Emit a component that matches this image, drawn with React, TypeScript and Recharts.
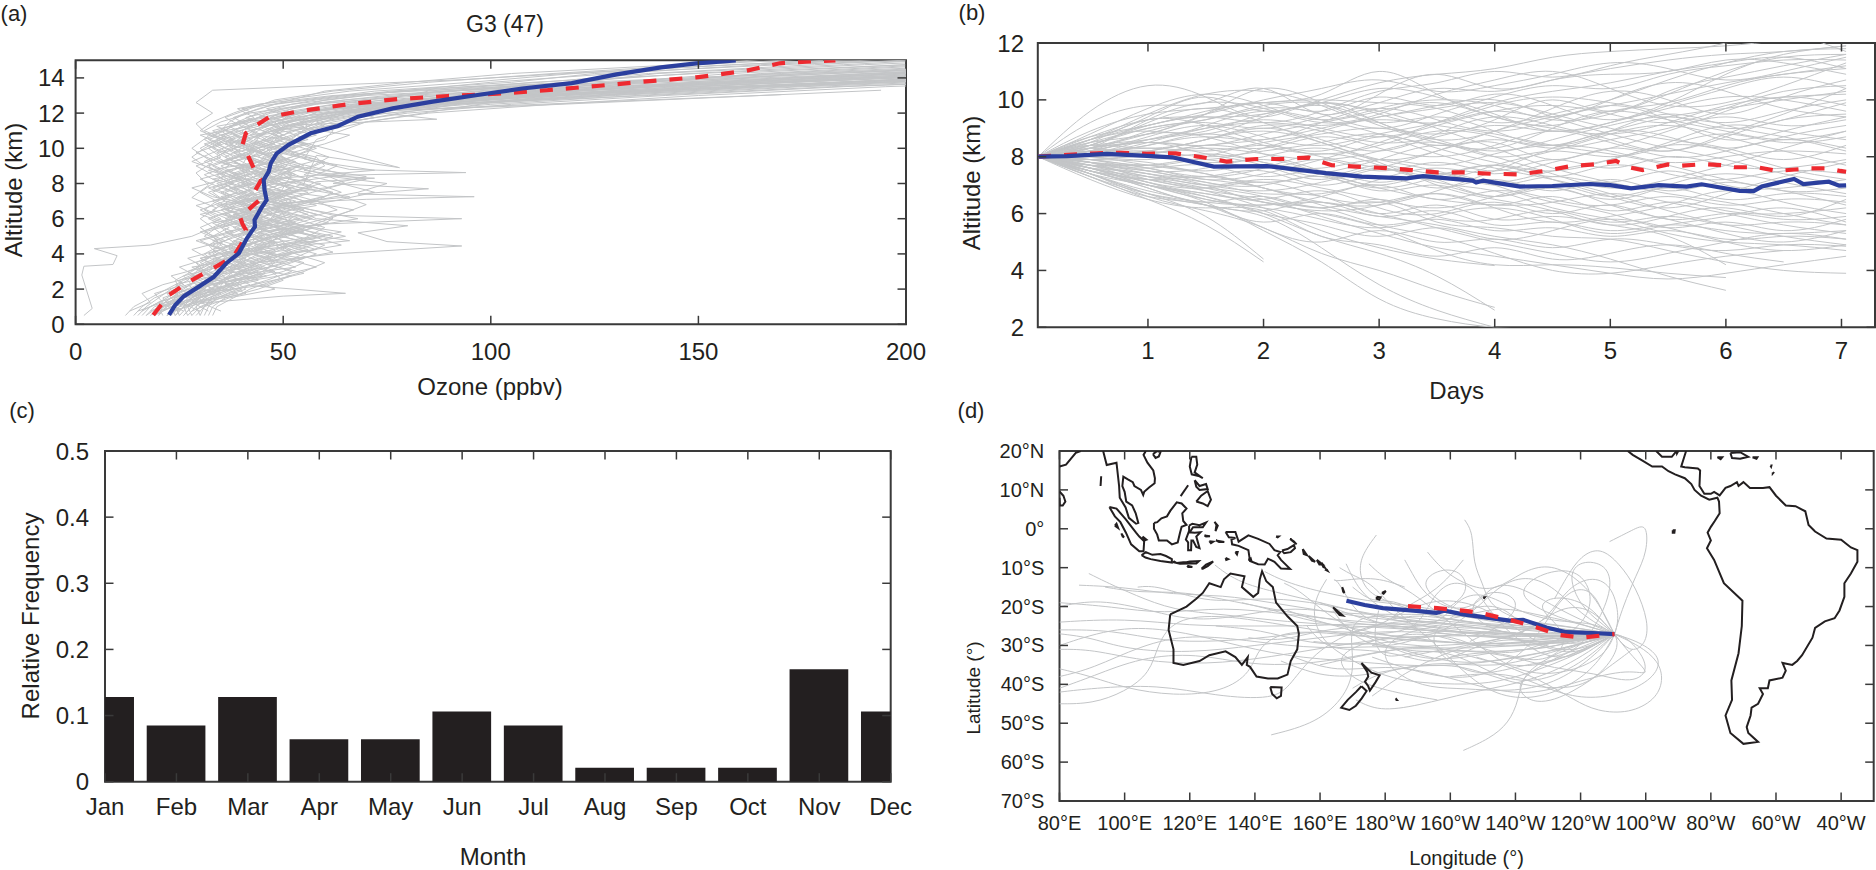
import React from 'react';
import { LineChart, BarChart, Line, Bar, XAxis, YAxis, ReferenceArea } from 'recharts';

type Pair = [number, number];

// ---------- panel (a): ozone profiles ----------
const altGrid = [0.5,1,1.5,2,2.5,3,3.5,4,4.5,5,5.5,6,6.5,7,7.5,8,8.5,9,9.5,10,10.5,11,11.5,12,12.5,13,13.5,14,14.5,15];
const altGridB = [.75,1.25,1.75,2.25,2.75,3.25,3.75,4.25,4.75,5.25,5.75,6.25,6.75,7.25,7.75,8.25,8.75,9.25,9.75,10.25,10.75,11.25,11.75,12.25,12.75,13.25,13.75,14.25,14.75,15.25];
const ozoneProfiles: number[][] = [
[20,22,26,31,33,38,36,41,44,39,46,42,48,51,44,47,53,49,45,50,54,58,66,78,92,118,150,190,240,300],
[18,21,24,28,34,31,37,35,42,47,40,38,45,41,49,55,48,42,46,44,50,47,55,63,80,104,140,180,215,270],
[25,27,30,36,40,45,48,43,52,56,60,53,47,58,62,54,50,57,61,55,48,52,60,72,88,125,168,220,270,330],
[30,31,33,38,35,42,47,52,48,44,50,57,49,43,46,52,58,63,56,50,45,49,57,66,85,110,145,200,250,310],
[15,17,20,23,27,29,33,36,34,38,35,41,37,33,39,36,42,38,34,37,41,36,39,44,52,70,110,160,205,260],
[22,24,29,33,30,36,41,38,45,50,43,48,55,47,52,59,45,41,48,53,46,42,50,58,74,96,130,172,225,285],
[28,30,35,41,38,44,39,46,51,48,58,62,54,49,56,48,44,51,47,42,49,55,62,75,100,135,175,235,290,350],
[19,23,21,27,32,35,30,34,39,36,33,37,44,40,36,43,39,35,41,38,34,40,45,49,62,88,128,185,230,295],
[32,33,36,44,50,47,42,49,55,62,52,46,42,50,57,65,60,52,44,47,53,60,70,85,115,150,195,255,310,380],
[24,26,28,32,37,34,40,44,41,47,54,44,40,46,42,39,47,44,50,46,40,44,48,56,68,92,135,178,228,275],
[17,19,25,30,28,33,38,42,37,43,39,45,36,40,48,42,37,33,39,43,37,33,41,47,58,80,118,170,218,265],
[27,29,32,37,42,39,46,50,57,53,48,55,63,58,50,46,52,45,42,48,56,50,46,53,70,108,155,210,260,320],
[21,20,23,26,29,32,35,33,37,40,45,39,35,43,38,34,41,47,40,36,32,38,44,52,76,112,160,215,275,340],
[31,32,34,39,46,52,45,40,47,42,38,44,50,57,68,75,58,48,54,49,43,47,54,68,95,130,172,225,280,345],
[23,25,27,35,31,37,42,47,44,58,50,43,39,45,53,49,43,55,50,41,47,53,59,70,90,122,162,205,255,305],
[12,14,18,22,26,31,29,34,32,36,41,34,30,36,32,38,33,29,35,32,36,31,35,42,56,84,125,175,225,290],
[26,28,31,34,39,43,50,55,60,49,44,50,46,52,47,43,38,44,52,57,51,45,51,61,82,115,150,198,245,300],
[29,31,37,48,42,50,55,48,43,51,57,47,52,44,40,46,50,42,38,44,50,56,65,80,105,142,185,240,295,360],
[16,18,22,25,24,28,31,37,35,33,37,32,38,34,41,35,31,37,33,30,34,38,42,46,55,75,105,155,210,270],
[33,34,38,42,48,55,60,53,49,46,52,60,67,55,48,44,49,54,46,52,60,62,58,64,78,100,138,192,248,315],
[20,21,26,29,36,41,37,32,38,45,41,36,42,38,44,50,46,40,36,40,46,50,48,54,72,98,142,190,240,298],
[24,23,28,34,44,38,34,39,46,42,47,52,44,39,35,41,37,43,49,44,39,43,47,60,78,106,148,195,238,290],
[14,16,19,24,30,27,32,40,36,31,34,38,33,37,43,37,34,40,37,33,38,35,37,41,48,65,95,148,205,255],
[27,26,30,33,35,40,44,47,52,65,56,50,44,55,64,58,53,46,52,58,52,48,56,70,92,128,165,218,268,335],
[22,25,34,40,37,48,43,37,41,49,55,68,57,46,51,45,42,50,44,38,42,46,52,62,84,118,158,208,262,325],
[30,29,31,35,39,37,43,51,64,57,49,41,47,53,45,40,44,48,42,46,55,58,54,60,76,102,132,182,235,280],
[19,22,24,30,34,30,35,38,33,39,43,40,46,36,33,38,35,32,38,35,31,36,39,50,66,94,138,188,245,305],
[25,24,26,31,33,36,40,36,42,38,44,54,48,62,72,64,55,60,58,48,42,40,44,55,72,116,165,225,285,355],
[28,27,29,36,41,46,52,58,50,60,53,47,41,48,44,50,65,56,47,43,37,42,50,65,88,138,182,245,305,375],
[17,20,23,27,25,30,34,31,35,33,30,35,31,34,30,33,36,31,28,31,35,30,33,38,44,62,102,165,218,278],
];
const ozoneProfilesB: number[][] = [
[21,26,24,31,35,29,37,33,42,36,47,39,34,44,38,48,41,35,43,37,45,40,36,42,48,62,85,115,150,190],
[26,22,30,27,38,44,36,48,41,55,46,38,50,43,37,46,52,44,38,48,42,55,47,52,60,78,100,130,165,215],
[16,20,27,24,33,28,41,35,30,38,33,44,37,42,35,30,38,43,36,31,39,34,46,40,55,72,105,125,170,230],
[30,25,34,42,37,53,46,58,50,44,61,52,45,66,54,47,72,58,49,56,44,51,60,68,84,112,138,165,205,260],
[13,18,16,21,29,25,32,28,36,31,39,34,29,37,32,40,34,28,33,38,32,37,43,39,50,66,95,120,158,210],
[24,29,35,31,46,40,33,45,38,50,42,56,48,39,57,49,43,38,47,55,48,42,52,70,94,120,155,190,235,290],
[32,28,39,33,43,38,50,44,66,52,45,38,52,60,44,37,46,53,44,36,44,60,72,65,78,96,128,168,210,250],
[19,24,22,28,26,34,30,39,33,41,36,30,41,35,45,39,32,45,39,34,41,37,48,56,70,88,118,148,190,240],
[23,31,28,37,32,47,55,40,58,48,39,47,41,50,42,56,47,36,42,50,58,48,41,50,65,92,122,140,185,225],
[28,33,30,46,52,42,36,52,46,40,49,58,50,44,60,70,55,60,50,44,38,46,55,60,74,85,110,150,200,245],
[15,21,19,26,23,31,27,35,29,37,45,36,43,33,28,36,42,34,29,35,30,42,38,44,52,60,80,105,145,180],
[35,30,41,36,49,58,50,43,54,64,50,42,36,48,55,41,49,57,52,60,66,52,48,60,82,105,135,170,220,270],
[20,27,33,29,40,35,30,42,35,30,37,43,35,47,52,44,36,31,36,41,35,44,52,46,58,76,112,138,178,220],
[18,23,29,38,30,41,47,37,44,52,44,35,46,38,33,41,36,50,44,39,33,38,44,62,86,110,130,158,200,255],
[25,20,26,33,45,37,44,56,47,41,53,46,58,52,42,33,44,38,34,42,50,45,58,74,100,128,148,175,225,285],
];
const ozoneSpikes: Pair[][] = [
[[24,.5],[28,1.5],[35,3],[44,4.2],[52,5.5],[48,7],[58,8.1],[72,8.3],[60,8.45],[94,8.62],[66,8.8],[55,9.4],[58,10.5],[70,11.5],[100,12.6],[150,13.4],[230,14.2]],
[[26,.5],[30,1.5],[38,3],[42,4.5],[47,6],[50,6.9],[70,7.1],[96,7.25],[68,7.4],[85,7.7],[62,8],[70,8.4],[52,9],[48,10],[55,11],[65,12],[110,13],[200,13.9]],
[[22,.5],[31,2],[36,3.5],[48,4.6],[44,5.2],[60,5.7],[93,6],[62,6.2],[55,6.6],[42,7.5],[40,9],[44,10.6],[52,12],[90,12.9],[170,13.6],[260,14.6]],
[[31,1],[36,2.5],[44,3.5],[62,4],[93,4.45],[75,4.7],[68,5.2],[80,5.6],[58,6],[48,7],[52,8.5],[46,10],[50,11.3],[87,11.65],[70,12.1],[112,12.45],[194,13.3]],
[[2,.5],[4,.9],[1.5,2.8],[2,3.3],[9,3.4],[10,3.9],[4.5,4.3],[18,4.5],[28,5],[33,5.5],[30,6],[34,6.6],[28,7.2],[32,7.9],[29,8.6],[33,9.2],[28,10],[32,10.7],[29,11.4],[33,12],[29,12.6],[33,13.3],[93,13.9],[122,14.3],[180,15]],
[[30,1.2],[50,1.6],[65,1.76],[42,2.2],[55,2.9],[46,3.4],[62,4.1],[50,5],[70,6.8],[55,8],[58,9.6],[78,8.9],[52,10.5],[60,12],[101,12.4],[170,13.05]],
];
const blueOzone: Pair[] = [[22.5,.53],[24,1.1],[26.1,1.6],[29.7,2.14],[33.3,2.7],[36.3,3.47],[39.3,4.03],[41.3,4.9],[43.2,5.55],[43.1,5.93],[44.7,6.6],[46,7.06],[45.5,7.63],[45.3,8.2],[46.5,8.67],[47,9.15],[48.4,9.7],[51.3,10.2],[56.6,10.85],[63.2,11.27],[68,11.8],[76.4,12.27],[86,12.65],[96.8,13.03],[107.6,13.4],[119.5,13.7],[130.3,14.2],[141,14.6],[149.5,14.83],[159,15]];
const redOzone: Pair[] = [[18.7,.53],[22.5,1.67],[27.9,2.5],[33.3,3.2],[38,3.85],[40,4.6],[41,5.36],[40.2,5.7],[39.6,6.1],[41.7,6.53],[44.3,7.06],[43.1,7.54],[44.7,8.2],[43.1,8.77],[41.3,9.7],[40.2,10.2],[41,10.85],[43.5,11.3],[46.5,11.76],[53.7,12.1],[65.6,12.5],[77.6,12.8],[89.6,12.97],[101.6,13.1],[113.5,13.3],[125.5,13.54],[137.5,13.8],[149.5,14.03],[161.4,14.4],[169.6,14.83],[176,14.93],[183,15]];
const ozoneTicks = [0,50,100,150,200];
const altTicksA = [0,2,4,6,8,10,12,14];

// ---------- panel (b): altitude vs days ----------
const dayGrid = [0.05,0.5,1,1.5,2,2.5,3,3.5,4,4.5,5,5.5,6,6.5,7.04];
const altitudeRuns: number[][] = [
[8,9.6,10.5,10.1,9.4,9.9,9.2,8.8,9.3,10,9.6,10.3,10.8,11.2,11.6],
[8,9.2,9.8,9.9,10.4,9.5,10.2,10.9,10.4,10.7,11.1,11.4,11.6,11.7,11.9],
[8,8.9,9.5,9.7,9.9,10,9.9,9.7,9.2,9.5,10,10.7,11.3,11.7,11.8],
[8,8.7,9.1,9.6,9.9,10.2,11,10.2,9.4,9.1,9.6,9.9,10.5,10.9,11.1],
[8,8.5,9,9.2,9,9.4,9.9,10.4,10.3,10.7,10.9,11,11.4,11.3,10.9],
[8,8.6,8.9,8.8,9.4,9.8,9.2,8.6,8.9,9.7,10.3,10,9.5,10.1,10.7],
[8,8.4,8.6,9,9.3,9,8.7,9.1,9.6,9.8,9.5,9.2,9.7,10.3,10.5],
[8,8.3,8.5,8.4,8.8,9.2,9.6,9.9,9.4,9,8.8,9.2,9.8,10.1,10.2],
[8,8.2,8.7,9.1,8.7,8.4,8.8,9.2,9.8,10.1,9.9,9.5,9,9.3,9.9],
[8,8.4,8.3,8.6,9.1,8.9,8.5,8.7,9.1,8.9,9.2,9.7,10.1,10,9.6],
[8,8.1,8.3,8.2,8.5,8.8,9,8.6,8.2,8.6,9.1,9.4,9.2,9.6,10],
[8,8.2,8.4,8.8,8.4,8.1,8.4,8.9,8.7,8.3,8.6,9,9.4,9.1,9.3],
[8,8.3,8.1,8.4,8.3,8.7,8.3,8,8.4,8.9,8.5,8.2,8.7,9.3,9.5],
[8,8.1,8.2,8,8.2,8.5,8.8,8.4,8.6,8.4,8.9,8.7,8.3,8.7,9.1],
[8,8,8.1,8.3,8.1,7.9,8.2,8.5,8,8.2,8,8.4,8.8,8.5,8.7],
[8,7.9,8,7.8,8,8.3,7.9,8.2,8.5,7.9,8.3,8,8.2,8.6,8.3],
[8,8,7.9,8.1,7.8,7.6,7.9,7.7,8.1,8.4,8.2,7.8,8,8.2,8.1],
[8,7.8,7.7,7.9,7.6,7.9,7.5,7.8,7.5,7.9,7.6,8,7.7,7.6,7.9],
[8,7.9,7.8,7.5,7.7,7.3,7.7,7.4,7.7,7.3,7.7,7.4,7.2,7.5,7.4],
[8,7.8,7.6,7.7,7.3,7.5,7.1,7.4,7,7.3,7.1,7.5,7,6.9,7.2],
[8,7.7,7.4,7.3,7.5,7,7.3,6.9,7.2,6.8,7.2,6.8,7.1,6.8,6.9],
[8,7.7,7.5,7.1,7,7.3,6.8,7,6.6,7,6.6,6.9,6.5,6.7,6.6],
[8,7.6,7.2,7.3,6.9,6.7,7,6.5,6.8,6.5,6.3,6.6,6.3,6.5,6.4],
[8,7.6,7.1,6.9,7.1,6.6,6.4,6.7,6.3,6.6,6.1,6.4,6.1,6,6.2],
[8,7.5,7,6.7,6.5,6.8,6.2,6,6.4,6,6.3,5.8,6,5.8,5.9],
[8,7.5,6.9,6.4,6.6,6.2,6.5,5.9,5.8,6.1,5.7,5.9,5.6,5.7,5.6],
[8,7.4,6.7,6.3,6.1,6.4,5.9,6.1,5.6,5.7,5.4,5.6,5.4,5.3,5.4],
[8,7.4,6.8,6.3,5.7,6,5.6,5.8,5.4,5.5,5.2,5.4,5.1,5.2,5.1],
[8,7.3,6.6,6.3,5.5,5,5.4,5,5.1,4.8,5.1,4.9,4.7,4.9,4.85],
[8,7.2,6.5,6.2,6.1,5.2,4.9,4.5,4.8,4.4,4.6,4.9,4.6,4.3],
[8,7.3,6.5,5.6,4.3],
[8,7.4,6.7,5.9,4.4],
[8,7.4,6.6,6.1,5.5,4.6,4,3.3,2.7],
[8,7.5,6.9,6.3,5.9,4.8,3.5,2.6,2],
[8,7.5,7,6.4,5.4,4.3,3,2.3,2,1.9],
[8,7.6,7,6.6,6,5.2,4.6,3.8,2.6],
[8,7.7,7.1,6.7,6.4,6,5.5,4.7,4.2,4.2,4.1,3.9,3.75],
[8,7.7,7.3,6.8,6.2,5.4,4.8,4.4,4.17],
[8,7.8,7.4,7,6.4,6.2,5.6,5.2,4.6,4,3.9,4.2,4.5,4.7],
[8,7.8,7.2,6.9,6.6,6.2,6.4,5.7,5.5,5.2,5.1,4.7,4.3,4,3.9],
[8,7.6,7.3,7.1,6.7,6.6,6,6.3,5.8,5.9,5.6,5.2,4.2],
[8,7.9,7.5,7.2,6.9,6.3,5.9,5.6,5.2,4.9,4.4,3.8,3.3],
[8,8.7,9.3,9.4,9.5,10,10.6,10.9,11.1,11.5,11.7,11.8,11.9,12.1,12.3],
[8,8.6,9.1,9.4,9.2,9.6,10.3,10.6,11,10.8,11.2,11.6,12,12.3,11.7],
[8,8.4,9,9.3,9.7,9.5,9,9.5,10.1,10.5,10.4,10.9,11.2,11.4,11.4],
[8,8.3,8.8,9.5,10.4,9.9,9.1,8.5,8.3,9,9.6,9.3,8.9,8.6,8.9],
[8,8.1,8.6,9,9.2,9.1,9.4,9.8,10,9.4,8.8,8.3,7.9,7.4,7],
[8,8.2,8.9,9.3,9.8,9.9,9.6,9,8.3,7.6,7.1,6.7,6.4,6,5.6],
[8,8.4,9.2,9.7,9.2,8.5,7.8,7.1,6.8,6.2,5.8,5.3,5,4.9,4.7],
[8,7.9,8.1,8.4,8.6,9,9.3,9.1,8.8,8.4,8.1,7.7,7.2,6.8,6.3],
[8,7.7,7.3,7,6.8,7.1,7.6,8.2,8.9,9.4,9.8,10.2,10.6,10.9,11.2],
[8,7.8,7.6,7.2,7.4,7.9,8.5,9.2,9.9,10.3,10.6,11,11.3,11.5,11.1],
[8,8,7.7,7.4,6.9,6.4,6.3,6.8,7.5,8.3,8.9,9.4,9.7,10,10.3],
[8,7.6,7,6.5,6.3,6.6,7.2,7.6,7.4,7.8,8.3,8.9,9.6,10.1,9.8],
[8,8.1,8.2,8.6,8.9,8.5,7.9,7.5,7.1,7.5,7.9,8.4,8.2,7.6,7.2],
[8,8.3,8.5,8.3,7.8,7.4,6.9,6.5,6.3,6.4,6.7,6.4,6,5.6,5.3],
[8,8.5,8.8,9.5,9.9,9.6,10.1,9.8,10.2,9.8,9.3,9.8,10.4,10.8,10.4],
[8,8.3,9.3,9.9,9.7,9.2,9.5,10.2,10.7,11,10.4,9.8,9.9,10.5,11.3],
[8,8.6,9.4,10.1,9.6,9.9,9.5,9.2,9.6,9.4,10,10.6,10.3,9.7,9.4],
[8,8.2,8.6,8.9,9.5,9.9,10.4,10.1,9.5,8.9,9.2,9.9,10.9,11.6,11.9],
[8,8.1,8.4,8.7,8.6,9.2,9.7,9.3,8.9,9.3,9.8,9.3,8.6,8.9,9.4],
[8,8,8.2,8.6,9,8.6,8.2,8.8,9.4,9.1,8.6,8.2,8.8,9.5,10.4],
[8,8.2,8.1,7.9,8.3,8.9,9.4,9.7,9.9,9.5,9,8.6,8.3,7.9,8.4],
[8,7.9,7.7,8,8.4,8.2,8.7,8.3,7.8,7.5,7.9,8.5,9.1,8.9,8.6],
[8,7.9,7.6,7.3,7.6,8.1,7.7,7.2,7.7,8.2,8.8,9.1,8.7,8.2,7.7],
[8,7.7,7.7,7.4,7.1,7.4,7.9,8.4,8,7.4,6.9,7.2,7.7,8.3,8.9],
[8,7.8,7.5,7.6,7.9,7.4,6.9,7.3,7.7,7.2,6.6,6.2,6.7,7.3,7.8],
[8,7.6,7.4,7,7.2,6.9,6.5,6.2,6.6,6.9,6.5,7,7.4,7.1,6.7],
[8,7.5,7.2,6.9,6.4,6.1,6.3,6.7,6.2,5.7,5.9,6.3,6.8,6.4,6],
[8,7.5,7.1,6.5,6.2,5.8,5.5,5.9,6.2,5.8,5.3,5.6,5.9,6.2,5.7],
[8,7.4,7,6.6,6,5.6,5.2,5.5,5.1,5.4,5.8,5.5,5,4.7,4.9],
[8,7.3,6.7,6.4,6.3,6.4,6,5.5,5,4.6,4.3,4.6,5,5.3,5.1],
[8,7.6,7.2,6.8,6.5,5.9,5.3,4.8,4.5,4.2,3.9,3.7,3.9,4.2,4.5],
[8,8.1,8.5,9.1,9.6,9.3,8.8,8.1,7.6,7.2,6.7,6.1,5.6,5.2,4.9],
[8,8.3,8.8,8.7,8.1,7.5,7,7.4,7,6.4,6,5.5,5.7,5.4,5.8],
[8,8.5,9.3,9.1,8.5,8,7.6,7.2,6.6,6.9,6.3,5.8,5.3,5,5.4],
[8,8.2,8.5,8.1,7.7,7.2,7.6,7,6.5,6.1,5.6,5.9,6.2,5.9,6.5],
[8,8.6,9.5,10.2,10.3,9.8,9.2,9.4,8.9,8.4,8.9,9.5,9.1,8.7,8.2],
[8,8.4,9.1,9.5,10,10.4,10.7,10.3,10.5,10.9,11.3,11.1,10.7,11,11.5],
[8,8.8,9.7,10.2,9.8,9.3,9.7,10,9.8,9.3,9.5,10.2,11,11.5,11.6],
];
const blueDays: Pair[] = [[.05,8],[.3,8.02],[.645,8.1],[.99,8.03],[1.21,7.98],[1.57,7.65],[2.03,7.67],[2.54,7.42],[2.85,7.3],[3.24,7.24],[3.38,7.32],[3.81,7.16],[3.84,7.09],[3.9,7.16],[4,7.09],[4.22,6.95],[4.5,6.97],[4.82,7.04],[5,7],[5.18,6.89],[5.42,7],[5.66,6.95],[5.79,7.03],[6.12,6.8],[6.24,6.79],[6.31,6.95],[6.59,7.22],[6.67,7.04],[6.89,7.12],[6.98,6.98],[7.04,6.99]];
const redDays: Pair[] = [[.05,8],[.56,8.12],[.77,8.14],[.99,8.1],[1.24,8.12],[1.47,7.98],[1.68,7.83],[1.94,7.92],[2.16,7.92],[2.39,7.97],[2.59,7.7],[2.8,7.65],[3.06,7.6],[3.28,7.53],[3.5,7.45],[3.74,7.45],[3.97,7.4],[4.22,7.38],[4.43,7.5],[4.66,7.67],[4.88,7.74],[5.05,7.85],[5.16,7.63],[5.28,7.53],[5.5,7.73],[5.6,7.68],[5.82,7.74],[5.98,7.7],[6.07,7.63],[6.27,7.63],[6.44,7.5],[6.73,7.59],[6.88,7.59],[6.99,7.5],[7.04,7.47]];
const dayTicks = [1,2,3,4,5,6,7];
const altTicksB = [2,4,6,8,10,12];

// ---------- panel (c): monthly frequency ----------
const months = ['Jan','Feb','Mar','Apr','May','Jun','Jul','Aug','Sep','Oct','Nov','Dec'];
const freq = [.128,.085,.128,.064,.064,.106,.085,.021,.021,.021,.170,.106];
const freqTicks = [0,.1,.2,.3,.4,.5];
const freqLabels = ['0','0.1','0.2','0.3','0.4','0.5'];

// ---------- panel (d): map ----------
const lonTicks = [80,100,120,140,160,180,200,220,240,260,280,300,320];
const lonLabels = ['80°E','100°E','120°E','140°E','160°E','180°W','160°W','140°W','120°W','100°W','80°W','60°W','40°W'];
const latTicks = [20,10,0,-10,-20,-30,-40,-50,-60,-70];
const latLabels = ['20°N','10°N','0°','10°S','20°S','30°S','40°S','50°S','60°S','70°S'];
const blueMap: Pair[] = [[168.1,-18.5],[173.7,-19.6],[179.3,-20.4],[189.6,-21.1],[195.7,-21.6],[198.2,-21.05],[204,-22],[209,-22.6],[218.2,-23.6],[222.3,-23.4],[229.5,-25.4],[235.6,-26.6],[243.7,-26.8],[250.4,-27.1]];
const redMap: Pair[] = [[187,-19.9],[196,-20.4],[203.9,-21.05],[209,-21.6],[218.2,-23.4],[226.4,-25.3],[233.5,-27.3],[240.2,-28],[250.4,-27.1]];
const trajectories: Pair[][] = [
[[250.4,-27.1],[235,-29],[220,-27],[205,-25],[190,-24],[175,-23],[160,-21],[145,-19],[130,-17],[115,-17],[100,-15],[86,-14.5]],
[[250.4,-27.1],[232,-30],[215,-28],[198,-26],[180,-23],[165,-20],[150,-17],[135,-14],[127.7,-9.3]],
[[250.4,-27.1],[230,-28],[210,-27],[190,-26],[170,-25],[150,-24],[130,-22],[115,-21],[103,-17],[95,-14],[89,-11.5]],
[[250.4,-27.1],[228,-27],[205,-27],[175,-24],[160,-25],[140,-25],[120,-25],[100,-23],[80,-24]],
[[250.4,-27.1],[225,-30],[200,-31],[180,-30],[160,-31],[140,-29],[120,-27],[105,-30],[90,-36],[80,-38]],
[[250.4,-27.1],[222,-31],[200,-29],[175,-28],[150,-25],[130,-22],[115,-23],[110,-30],[108,-37],[100,-42],[90,-45],[80,-45]],
[[250.4,-27.1],[220,-30],[190,-29],[165,-27],[150,-26],[141,-30],[139,-37],[130,-42],[115,-43],[100,-41],[90,-38],[80,-36]],
[[250.4,-27.1],[226,-29],[200,-27],[180,-26],[160,-28],[140,-30],[120,-32],[100,-31],[90,-28],[80,-27]],
[[250.4,-27.1],[224,-28],[195,-25],[172,-24],[150,-22],[130,-20],[112,-22],[96,-20],[80,-19]],
[[250.4,-27.1],[220,-28],[190,-27],[165,-30],[145,-33],[125,-35],[105,-34],[90,-31],[80,-31]],
[[250.4,-27.1],[215,-27],[185,-26],[160,-23],[135,-19],[118,-16],[105,-16.5],[94,-15]],
[[250.4,-27.1],[225,-33],[195,-36],[170,-34],[150,-33],[130,-29],[115,-26],[98,-25],[80,-30]],
[[250.4,-27.1],[232,-27],[212,-25],[190,-24],[170,-21],[152,-18],[138,-18],[125,-19],[110,-14.5],[104,-15]],
[[250.4,-27.1],[235,-25],[222,-24],[212,-20],[210,-14],[207,-9],[207,-1],[204.4,2.3]],
[[250.4,-27.1],[225,-25],[200,-24],[185,-20],[175,-17],[172,-12],[172.5,-7],[177.3,-1.6]],
[[250.4,-27.1],[255,-32],[260,-30],[261,-24],[257,-15],[252,-9],[246,-4.6],[240,-7],[236,-12],[232,-18]],
[[250.4,-27.1],[253,-20],[257,-12],[260.5,-6],[260.5,1.6],[256,-.3],[248.9,-3.3]],
[[250.4,-27.1],[258,-30],[264,-34],[265.5,-39],[263,-44],[255,-47.5],[245,-47],[238,-44],[230,-40],[220,-36],[208,-33]],
[[250.4,-27.1],[258,-29],[265,-33],[263,-38],[255,-42],[243,-44],[232,-42],[222,-38],[212,-37],[200,-38]],
[[250.4,-27.1],[238,-30],[228,-34],[222,-38],[221,-44],[218,-50],[212,-54],[204,-57]],
[[250.4,-27.1],[230,-26],[200,-24],[180,-22],[168,-23],[171,-35],[168,-43],[159,-50],[145,-53]],
[[250.4,-27.1],[235,-36],[220,-40],[206,-42],[190,-45.5],[178,-47],[171,-44]],
[[250.4,-27.1],[256,-33],[262,-38],[255,-36],[240,-39],[225,-43],[210,-41],[195,-37],[180,-35],[165,-37],[152,-33]],
[[250.4,-27.1],[240,-32],[225,-37],[212,-40],[198,-40],[182,-39],[170,-34],[160,-29],[157,-20],[162,-13]],
[[250.4,-27.1],[236,-22],[226,-17],[218,-14],[212,-15],[208,-20],[200,-21],[192,-17],[188,-11],[186,-8]],
[[250.4,-27.1],[240,-22],[232,-15],[224,-12],[216,-14],[210,-19],[200,-26],[186,-29],[170,-30],[158,-29]],
[[250.4,-27.1],[245,-18],[238,-12],[230,-9],[222,-11],[214,-16],[206,-15],[198,-11],[193,-6]],
[[250.4,-27.1],[243,-20],[234,-20],[226,-25],[218,-28],[204,-30],[190,-30],[176,-32],[160,-35]],
[[250.4,-27.1],[248,-32],[240,-36],[228,-38],[216,-35],[206,-28],[198,-23],[188,-16],[180,-13],[175,-9]],
[[250.4,-27.1],[246,-34],[238,-40],[226,-44],[214,-43],[204,-37],[195,-29],[184,-22],[176,-14],[170,-12],[166,-10]],
[[250.4,-27.1],[240,-28],[230,-31],[218,-31],[206,-33],[192,-34],[180,-30],[170,-26],[160,-24],[150,-21]],
[[250.4,-27.1],[238,-24],[226,-22],[216,-20],[206,-22],[196,-24],[186,-24],[178,-20],[172,-16],[168,-9]],
[[250.4,-27.1],[242,-29],[232,-28],[222,-32],[212,-32],[200,-27],[190,-28],[180,-31],[170,-28],[164,-21]],
[[250.4,-27.1],[247,-22],[244,-16],[238,-15],[232,-20],[226,-29],[216,-36],[204,-39],[190,-37],[176,-33]],
[[250.4,-27.1],[246,-29],[236,-34],[226,-32],[214,-24],[208,-15],[200,-13],[194,-18],[190,-26],[178,-27]],
[[250.4,-27.1],[252,-23],[250,-15],[244,-12],[236,-15],[230,-23],[222,-27],[212,-29],[198,-31],[186,-33]],
[[250.4,-27.1],[244,-30],[234,-32],[224,-28],[214,-22],[206,-19],[196,-18],[186,-21],[176,-26],[166,-27]],
[[250.4,-27.1],[255,-28],[262,-36],[256,-40],[244,-37],[232,-36],[220,-33],[205,-31],[192,-32],[176,-30]],
[[250.4,-27.1],[240,-26],[228,-26],[216,-25],[204,-24],[192,-22],[182,-18],[176,-19],[170,-15]],
[[250.4,-27.1],[236,-28],[224,-27],[210,-26],[196,-28],[182,-28],[168,-25],[158,-24],[146,-21],[136,-19]],
[[250.4,-27.1],[234,-31],[220,-33],[206,-35],[192,-33],[178,-29],[166,-30],[154,-29],[142,-26],[128,-25]],
[[250.4,-27.1],[230,-32],[214,-36],[198,-34],[184,-36],[172,-38],[160,-38],[148,-34]],
[[250.4,-27.1],[238,-29],[224,-30],[210,-29],[198,-32],[186,-37],[176,-43]],
[[250.4,-27.1],[232,-33],[218,-40],[226,-46],[238,-42],[248,-36],[256,-31]],
[[250.4,-27.1],[228,-24],[212,-23],[198,-20],[190,-14],[197,-10],[204,-11],[206,-17],[196,-22]],
[[250.4,-27.1],[220,-25],[204,-26],[190,-24],[178,-25],[170,-21],[165,-12],[163,-14],[176,-12],[186,-15]],
[[250.4,-27.1],[236,-26],[218,-24],[200,-22],[184,-22],[168,-22],[152,-20],[138,-22],[122,-24],[108,-21],[92,-18],[80,-20]],
[[250.4,-27.1],[232,-28],[214,-30],[196,-29],[178,-27],[160,-26],[144,-28],[128,-29],[112,-29],[96,-26],[80,-26]],
[[250.4,-27.1],[228,-31],[208,-32],[188,-30],[170,-33],[154,-35],[138,-35],[122,-32],[105,-33],[90,-38],[80,-41]],
[[250.4,-27.1],[238,-27],[222,-25],[206,-23],[192,-20],[178,-19],[164,-17],[150,-14],[143,-11]],
[[250.4,-27.1],[226,-28],[206,-25],[186,-23],[170,-26],[158,-32],[151,-40],[146,-44],[128,-43],[110,-40],[90,-41],[80,-42]],
[[250.4,-27.1],[244,-24],[232,-24],[220,-21],[210,-16],[202,-18],[198,-24],[186,-26],[172,-23],[160,-19]],
[[250.4,-27.1],[246,-26],[236,-29],[226,-27],[214,-27],[204,-21],[212,-15],[222,-18],[218,-24],[206,-29]],
[[250.4,-27.1],[242,-31],[232,-34],[222,-35],[210,-38],[200,-35],[192,-28],[202,-21],[214,-19],[220,-23]],
[[250.4,-27.1],[248,-25],[242,-19],[232,-17],[226,-20],[234,-25],[236,-31],[226,-35],[214,-31],[200,-33]],
[[250.4,-27.1],[244,-33],[232,-40],[218,-42],[204,-41],[194,-41],[184,-38],[178,-32],[184,-27],[196,-25]],
[[250.4,-27.1],[240,-35],[226,-40],[214,-38],[202,-32],[190,-31],[180,-34],[176,-29],[178,-21]],
[[250.4,-27.1],[236,-33],[224,-36],[210,-34],[196,-30],[184,-30],[172,-27],[162,-22],[154,-16],[149,-14]],
[[250.4,-27.1],[238,-33],[228,-30],[216,-27],[202,-28],[188,-25],[174,-25],[160,-26],[148,-29],[138,-28]],
[[250.4,-27.1],[234,-29],[220,-29],[208,-31],[196,-27],[186,-27],[174,-29],[164,-33],[170,-39],[182,-42],[196,-44]],
[[250.4,-27.1],[240,-30],[228,-29],[214,-28],[204,-32],[194,-35],[184,-32],[172,-31],[162,-31],[156,-25]],
[[250.4,-27.1],[252,-30],[248,-36],[240,-41],[228,-41],[216,-39],[204,-35],[190,-35],[178,-37],[170,-41]],
[[250.4,-27.1],[232,-26],[218,-26],[208,-24],[198,-23],[188,-22],[180,-24],[186,-20],[196,-16],[204,-8]],
[[250.4,-27.1],[242,-25],[230,-22],[220,-17],[226,-12],[236,-10],[242,-13],[244,-20],[238,-27],[226,-31]],
[[250.4,-27.1],[246,-24],[240,-20],[236,-12],[240,-8],[248,-9],[250,-15],[245,-25],[238,-32],[230,-33]],
];
const coast: Pair[][] = [
[[114,-22],[113.5,-26],[115,-31],[115,-34.5],[118,-35],[123,-34],[126,-32.5],[131,-31.5],[134,-33],[136,-35],[137.8,-33],[137.5,-35],[138.5,-35.5],[140.5,-38],[144,-38.5],[147,-38.5],[150,-37.5],[151,-34],[153,-31],[153.5,-27],[153,-25],[150,-22.5],[146.5,-19],[145.5,-15],[143.5,-13.5],[142.2,-10.9],[141.5,-13],[141,-16.5],[139.5,-17.5],[136,-15],[136.8,-12.2],[132.5,-11.5],[130.5,-13],[129.5,-15],[126,-14],[124,-16.5],[122,-18],[119,-20],[114,-22]],
[[144.7,-40.7],[148.2,-40.8],[148,-43],[146.7,-43.6],[145.3,-42.5],[144.7,-40.7]],
[[172.7,-34.5],[174.5,-36],[175.8,-37],[178.3,-37.7],[177,-39.5],[175.3,-41.6],[174.8,-40.5],[173.8,-39.3],[174.8,-38],[174.5,-36.8],[172.7,-34.5]],
[[172.7,-40.5],[174.3,-41.7],[172.8,-43.6],[171,-45.5],[169,-46.6],[166.5,-46],[168.5,-44],[171,-42],[172.7,-40.5]],
[[254.5,20],[256,19],[259,17.5],[262,16],[265,16],[267,14.8],[269,14],[272,13],[274,11.5],[275,10],[277,8.5],[279.5,7.5],[282,8],[282.5,7],[282.7,4],[281.2,2],[280,.5],[279,-1],[280,-3],[278.8,-5],[281,-8],[284,-14],[289.7,-18.5],[289.5,-25],[288.5,-32],[286.3,-39],[286.5,-44],[284.5,-48],[286,-52.5],[290,-55.3],[294.5,-54.8],[291.5,-52.5],[291,-51],[292.2,-48],[292.5,-46],[294.5,-45],[296,-42.5],[295,-41],[297.5,-41],[298,-39],[302,-38.3],[303,-36.5],[302,-34.5],[305,-35],[306.5,-34],[308,-32.5],[311.2,-28],[312,-25.5],[315,-23.8],[318,-23],[319.5,-21],[321,-17.5],[321,-14],[323,-11.5],[325,-8.5],[325,-5.5],[323,-4.8],[320,-2.8],[315.5,-2.5],[312,-.7],[310,1],[309,4.5],[306,5.8],[303,6],[300,8.5],[298,10.7],[296,10.5],[292,10.5],[290,12],[288.5,11],[288,12],[286,11],[284.5,10.5],[282.7,8.6],[281,9.5],[280,9],[278,9],[276.5,11],[276.7,15],[276,15.5],[272,15.8],[270.9,16],[272.4,20]],
[[263.2,20],[265,18.5],[268,18.5],[269,19.5],[269.5,20]],
[[80,16],[82,16.5],[85,19.5],[86.5,20]],
[[80,9.6],[81.2,8.5],[81.8,7],[81,6],[80.1,6],[80,8]],
[[93.4,20],[94.5,16.4],[97.5,17],[98.3,11],[98.5,8],[100.3,5.5],[101.3,2.8],[103.5,1.3],[104.2,1.5],[103.4,4],[102.3,6],[100.5,7],[100,9.5],[99.3,11],[99.6,13.4],[101,12.7],[102.5,12],[103,11],[105,10],[105.7,8.7],[106,9.5],[107.5,10.6],[109.2,11.7],[109.3,13],[108.8,15],[107,17],[105.8,19],[106.5,20]],
[[108.7,19.2],[110,20],[111,19.7],[110.5,18.6],[109.5,18.2],[108.7,19.2]],
[[92.8,13.5],[92.6,11]],
[[95.3,5.6],[97.5,5.2],[100.3,2.5],[103.5,-1],[104.5,-2],[106,-3.2],[105.8,-5.8],[104.5,-5.8],[102,-4],[100.4,-1],[98.7,1.7],[97,3.2],[95.3,5.6]],
[[105.2,-6.8],[106.5,-6],[108.5,-6.7],[111,-6.5],[112.7,-7],[114.5,-7.8],[114.5,-8.7],[111,-8.3],[108,-7.8],[106.4,-7.4],[105.2,-6.8]],
[[115,-8.3],[116,-8.8],[118,-8.6],[119,-8.6],[120,-8.4],[122.8,-8.3],[122,-8.9],[120,-8.9],[117,-9],[115,-8.6],[115,-8.3]],
[[123.6,-10.3],[125,-9.2],[127.2,-8.4],[125.5,-9.6],[124,-10.3],[123.6,-10.3]],
[[119.2,-9.5],[120.8,-9.8],[119.5,-9.8],[119.2,-9.5]],
[[109,1.5],[110,1.7],[111.3,2.7],[113,3.2],[114,4.6],[116,6.8],[117.5,6.5],[119,5.2],[117.7,4],[118,2],[119,1],[117.5,.5],[117,-1],[116.3,-3.5],[114.5,-4],[113,-3],[110.5,-3],[110,-1.5],[109,0],[109,1.5]],
[[119.8,.8],[120.8,1.3],[123,.9],[125,1.6],[124,.4],[121,.4],[120,-.9],[121.5,-1],[123.3,-.9],[122,-2],[122.5,-3.5],[123,-5],[122,-4.7],[121,-3],[120.5,-3],[120.4,-5.5],[119.5,-5.5],[119.5,-3.5],[118.8,-2.8],[119.8,-.5],[119.8,.8]],
[[97,.8],[98,.2],[97.5,1.3],[97,.8]],
[[99,-1.2],[99.8,-2.2],[99.4,-2],[99,-1.2]],
[[105.5,-2],[106.7,-2.8],[106,-3],[105.5,-2]],
[[127.6,1.8],[128.6,.8],[127.9,-.6],[128.2,1],[127.6,1.8]],
[[128,-3],[130.6,-3.4],[129,-3.4],[128,-3]],
[[126,-3.2],[127.2,-3.3],[126.5,-3.7],[126,-3.2]],
[[124.5,-1.7],[126.2,-1.9],[125,-2],[124.5,-1.7]],
[[134,-6],[134.7,-6],[134.5,-6.6],[134,-6]],
[[131,-7.5],[131.8,-7.8],[131.2,-8],[131,-7.5]],
[[138,-8],[138.7,-7.6],[138.9,-8.2],[138,-8]],
[[120.5,18.5],[122,18.5],[122.3,16.5],[121.5,14.5],[124,13],[123,13.5],[120.6,14],[120,16],[120.5,18.5]],
[[122,7],[123.5,8.5],[125.5,9.7],[126.5,7.5],[125.5,5.8],[124,6.5],[122,7]],
[[121.5,12.5],[123,11],[125,11.5],[125.5,10.2],[123,10],[122,10.8],[121.5,12.5]],
[[117.2,8.4],[119.5,11.2]],
[[131,-.8],[134,-.8],[135,-3.3],[138,-1.7],[141,-2.6],[144.5,-3.9],[146,-5.5],[147.8,-6],[147,-6.8],[148,-8],[150.8,-10.3],[148,-10.2],[146,-8.5],[144,-7.7],[143,-9.2],[141,-9.1],[138.5,-8.3],[138,-5.5],[135,-4.4],[133,-4],[132.8,-2.8],[134,-2.4],[132,-2.2],[131,-.8]],
[[148.3,-5.6],[150,-5.2],[152,-4.2],[152.3,-5],[151,-6],[149,-6.3],[148.3,-5.6]],
[[150.8,-2.6],[152.8,-4],[152,-3.3],[150.8,-2.6]],
[[146.5,-2],[147.3,-2],[147,-2.2],[146.5,-2]],
[[154.7,-5.2],[156,-6.8],[155,-6.5],[154.7,-5.2]],
[[156.5,-7],[158.5,-8.5],[157.5,-8.2],[156.5,-7]],
[[159,-8],[160.8,-9.2],[159.8,-9.2],[159,-8]],
[[160.5,-8.8],[161.5,-10],[161,-9.8],[160.5,-8.8]],
[[162,-10.4],[162.3,-10.8],[161.8,-10.6],[162,-10.4]],
[[166.8,-15],[167.5,-16.5],[167.1,-16.2],[166.8,-15]],
[[164,-20.2],[167,-22.3],[166,-22.2],[164,-20.2]],
[[177.4,-17.5],[178.6,-17.6],[178.2,-18.2],[177.4,-18],[177.4,-17.5]],
[[179,-16.5],[180.2,-16],[179.5,-16.7],[179,-16.5]],
[[183.2,-44],[183.6,-44],[183.4,-43.8],[183.2,-44]],
[[210.1,-17.6],[210.6,-17.6],[210.4,-17.8],[210.1,-17.6]],
[[268.3,-.4],[268.9,-.4],[268.8,-1],[268.3,-1],[268.3,-.4]],
[[282,18.4],[283.5,18.4],[283,17.9],[282,18.4]],
[[286,19.5],[289,19.7],[291.5,18.5],[289,18],[286.5,18.2],[286,19.5]],
[[292.8,18.4],[294.3,18.4],[294,18],[292.8,18.4]],
[[298.3,16.3],[298.6,16.3],[298.5,16],[298.3,16.3]],
[[299,14.5],[299.2,14.4],[299,14.2],[299,14.5]],
[[269.5,20],[269.6,19.4],[270,20]],
];

// ---------- shared style ----------
const FONT = '"Liberation Sans", Arial, sans-serif';
const INK = '#231f20';
const FRAME = '#3a3a3a';
const GRAY = '#c3c5c7';
const BLUE = '#2b3f9e';
const RED = '#ee2a30';
const toPts = (a: Pair[]) => a.map(([x, y]) => ({ x, y }));
const zip = (xs: number[], ys: number[]) => xs.map((x, i) => ({ x, y: ys[i] })).filter((d) => d.y !== undefined);

type Box = { l: number; t: number; w: number; h: number; x0: number; x1: number; y0: number; y1: number };
const boxA: Box = { l: 0, t: 0, w: 930, h: 405, x0: 75.6, x1: 906, y0: 60.3, y1: 324.3 };
const boxB: Box = { l: 930, t: 0, w: 946, h: 405, x0: 1037.8, x1: 1875, y0: 43, y1: 327.3 };
const boxC: Box = { l: 0, t: 405, w: 930, h: 465, x0: 105, x1: 890.7, y0: 451, y1: 781.7 };
const boxD: Box = { l: 930, t: 405, w: 946, h: 465, x0: 1059.5, x1: 1873.7, y0: 451, y1: 801 };

const marginOf = (b: Box) => ({ top: b.y0 - b.t, right: b.l + b.w - b.x1, left: 0, bottom: 0 });
const TICK = 8.5;

const xTick = (b: Box, labelY: number, fs: number, label: (v: number, i: number) => string) => (p: any) => {
  const top = b.y0 - b.t, bot = b.y1 - b.t;
  return (
    <g>
      <line x1={p.x} x2={p.x} y1={bot} y2={bot - TICK} stroke={FRAME} strokeWidth={1.5} />
      <line x1={p.x} x2={p.x} y1={top} y2={top + TICK} stroke={FRAME} strokeWidth={1.5} />
      <text x={p.x} y={labelY - b.t} textAnchor="middle" dominantBaseline="central" fontSize={fs} fontFamily={FONT} fill={INK}>
        {label(p.payload.value, p.index)}
      </text>
    </g>
  );
};
const yTick = (b: Box, rightEdge: number, fs: number, label: (v: number, i: number) => string) => (p: any) => {
  const left = b.x0 - b.l, right = b.x1 - b.l;
  return (
    <g>
      <line x1={left} x2={left + TICK} y1={p.y} y2={p.y} stroke={FRAME} strokeWidth={1.5} />
      <line x1={right} x2={right - TICK} y1={p.y} y2={p.y} stroke={FRAME} strokeWidth={1.5} />
      <text x={rightEdge - b.l} y={p.y} textAnchor="end" dominantBaseline="central" fontSize={fs} fontFamily={FONT} fill={INK}>
        {label(p.payload.value, p.index)}
      </text>
    </g>
  );
};
const title = (b: Box, text: string, cx: number, cy: number, fs: number, rotate = false) => ({
  content: () => (
    <text
      x={cx - b.l}
      y={cy - b.t}
      textAnchor="middle"
      dominantBaseline="central"
      fontSize={fs}
      fontFamily={FONT}
      fill={INK}
      transform={rotate ? `rotate(-90 ${cx - b.l} ${cy - b.t})` : undefined}
    >
      {text}
    </text>
  ),
});
const frame = (xd: number[], yd: number[]) => (
  <ReferenceArea x1={xd[0]} x2={xd[1]} y1={yd[0]} y2={yd[1]} fill="none" fillOpacity={0} stroke={FRAME} strokeWidth={2} ifOverflow="visible" />
);
const gray = (key: string, data: any[], type: any = 'linear') => (
  <Line key={key} data={data} dataKey="y" type={type} stroke={GRAY} strokeWidth={1} dot={false} activeDot={false} isAnimationActive={false} legendType="none" />
);
const bold = (key: string, data: any[], color: string, dash?: string, w = 4.2) => (
  <Line key={key} data={data} dataKey="y" type="linear" stroke={color} strokeWidth={w} strokeDasharray={dash} dot={false} activeDot={false} isAnimationActive={false} legendType="none" />
);
const abs = (b: Box): React.CSSProperties => ({ position: 'absolute', left: b.l, top: b.t });
const num = (v: number) => String(v);

const note = (text: string, cx: number, cy: number, fs: number) => (
  <div
    style={{ position: 'absolute', left: cx, top: cy, transform: 'translate(-50%,-50%)', fontFamily: FONT, fontSize: fs, color: INK, whiteSpace: 'nowrap', lineHeight: 1 }}
  >
    {text}
  </div>
);

function PanelA() {
  const b = boxA;
  const xd = [0, 200], yd = [0, 15];
  return (
    <div style={abs(b)}>
      <LineChart width={b.w} height={b.h} margin={marginOf(b)}>
        <XAxis dataKey="x" type="number" domain={xd} ticks={ozoneTicks} interval={0} allowDataOverflow height={b.t + b.h - b.y1} axisLine={false} tickLine={false}
          tick={xTick(b, 351.5, 24, num)} label={title(b, 'Ozone (ppbv)', 490, 386, 24)} />
        <YAxis dataKey="y" type="number" domain={yd} ticks={altTicksA} interval={0} allowDataOverflow width={b.x0 - b.l} axisLine={false} tickLine={false}
          tick={yTick(b, 64.7, 24, num)} label={title(b, 'Altitude (km)', 13, 190, 24, true)} />
        {ozoneProfiles.map((p, i) => gray('p' + i, zip(p, altGrid)))}
        {ozoneProfilesB.map((p, i) => gray('q' + i, zip(p, altGridB)))}
        {ozoneSpikes.map((p, i) => gray('s' + i, toPts(p)))}
        {bold('red', toPts(redOzone), RED, '13 13')}
        {bold('blue', toPts(blueOzone), BLUE)}
        {frame(xd, yd)}
      </LineChart>
    </div>
  );
}

function PanelB() {
  const b = boxB;
  const xd = [0.047, 7.29], yd = [2, 12];
  return (
    <div style={abs(b)}>
      <LineChart width={b.w} height={b.h} margin={marginOf(b)}>
        <XAxis dataKey="x" type="number" domain={xd} ticks={dayTicks} interval={0} allowDataOverflow height={b.t + b.h - b.y1} axisLine={false} tickLine={false}
          tick={xTick(b, 350, 24, num)} label={title(b, 'Days', 1456.7, 390, 24)} />
        <YAxis dataKey="y" type="number" domain={yd} ticks={altTicksB} interval={0} allowDataOverflow width={b.x0 - b.l} axisLine={false} tickLine={false}
          tick={yTick(b, 1024, 24, num)} label={title(b, 'Altitude (km)', 971.6, 183, 24, true)} />
        {altitudeRuns.map((r, i) => gray('r' + i, zip(dayGrid, r), 'natural'))}
        {bold('red', toPts(redDays), RED, '13 13')}
        {bold('blue', toPts(blueDays), BLUE)}
        {frame(xd, yd)}
      </LineChart>
    </div>
  );
}

const freqData = freq.map((f, i) => ({ m: i, f }));

function PanelC() {
  const b = boxC;
  const xd = [0, 11], yd = [0, 0.5];
  return (
    <div style={abs(b)}>
      <BarChart width={b.w} height={b.h} margin={marginOf(b)} data={freqData} barSize={58.7}>
        <XAxis dataKey="m" type="number" domain={xd} ticks={months.map((_, i) => i)} interval={0} allowDataOverflow height={b.t + b.h - b.y1} axisLine={false} tickLine={false}
          tick={xTick(b, 806.7, 24, (v) => months[v])} label={title(b, 'Month', 493, 856, 24)} />
        <YAxis type="number" domain={yd} ticks={freqTicks} interval={0} allowDataOverflow width={b.x0 - b.l} axisLine={false} tickLine={false}
          tick={yTick(b, 89, 24, (_, i) => freqLabels[i])} label={title(b, 'Relative Frequency', 30, 616, 24, true)} />
        <Bar dataKey="f" fill={INK} isAnimationActive={false} />
        {frame(xd, yd)}
      </BarChart>
    </div>
  );
}

function PanelD() {
  const b = boxD;
  const xd = [80, 330], yd = [-70, 20];
  return (
    <div style={abs(b)}>
      <LineChart width={b.w} height={b.h} margin={marginOf(b)}>
        <XAxis dataKey="x" type="number" domain={xd} ticks={lonTicks} interval={0} allowDataOverflow height={b.t + b.h - b.y1} axisLine={false} tickLine={false}
          tick={xTick(b, 823, 20, (_, i) => lonLabels[i])} label={title(b, 'Longitude (°)', 1466.5, 858, 20)} />
        <YAxis dataKey="y" type="number" domain={yd} ticks={latTicks} interval={0} allowDataOverflow width={b.x0 - b.l} axisLine={false} tickLine={false}
          tick={yTick(b, 1044.3, 20, (_, i) => latLabels[i])} label={title(b, 'Latitude (°)', 973, 688, 19, true)} />
        {trajectories.map((t, i) => gray('t' + i, toPts(t), 'basis'))}
        {coast.map((c, i) => (
          <Line key={'c' + i} data={toPts(c)} dataKey="y" type="linear" stroke={INK} strokeWidth={2} dot={false} activeDot={false} isAnimationActive={false} legendType="none" />
        ))}
        {bold('blue', toPts(blueMap), BLUE)}
        {bold('red', toPts(redMap), RED, '13 13')}
        {frame(xd, yd)}
      </LineChart>
    </div>
  );
}

export default function App() {
  return (
    <div style={{ position: 'absolute', left: 0, top: 0, width: 1876, height: 870, background: '#fff', overflow: 'hidden' }}>
      <PanelA />
      <PanelB />
      <PanelC />
      <PanelD />
      {note('(a)', 14, 14, 22)}
      {note('G3 (47)', 505, 24, 23)}
      {note('(b)', 972, 13, 22)}
      {note('(c)', 22, 411, 22)}
      {note('(d)', 971, 411, 22)}
    </div>
  );
}
